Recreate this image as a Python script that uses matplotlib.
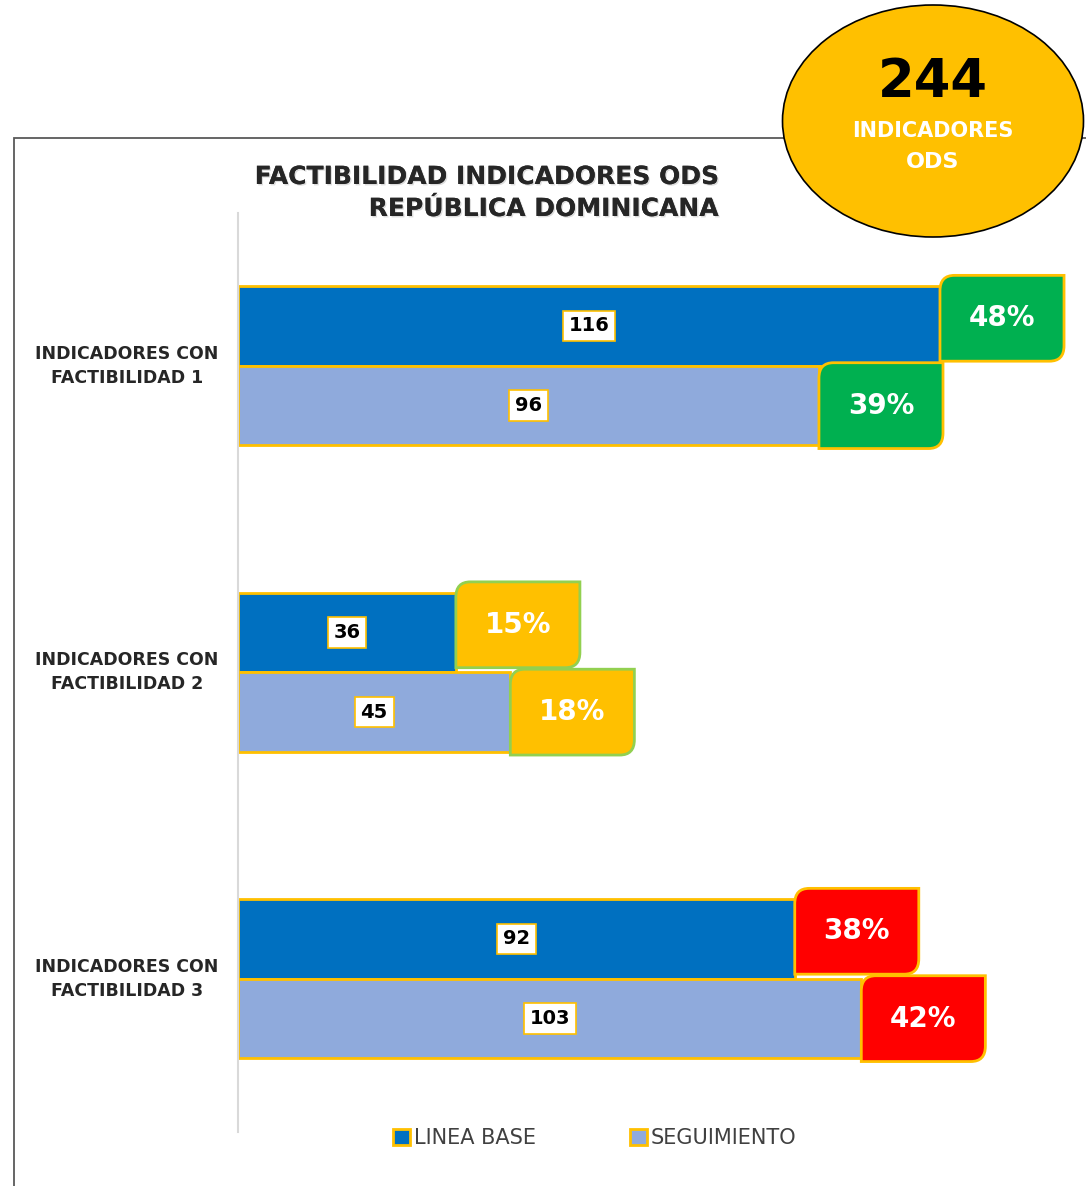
import numpy as np
import matplotlib.pyplot as plt
import matplotlib.patches as patches
import matplotlib.patheffects as pe
from matplotlib.path import Path
from matplotlib.transforms import blended_transform_factory

# datos
categorias = ['INDICADORES CON\nFACTIBILIDAD 1', 'INDICADORES CON\nFACTIBILIDAD 2', 'INDICADORES CON\nFACTIBILIDAD 3']
linea_base = [116, 36, 92]
seguimiento = [96, 45, 103]
pct_base = [48, 15, 38]
pct_seg = [39, 18, 42]
total = 244

c_base = '#0070C0'
c_seg = '#8FAADC'
gold = '#FFC000'
box_fc = ['#00B050', '#FFC000', '#FF0000']
box_ec = ['#FFC000', '#92D050', '#FFC000']

fig = plt.figure(figsize=(10.86, 11.86), dpi=100)
ax = fig.add_axes([238/1086, 0.0455, 823/1086, 0.7753])

y = np.arange(len(categorias))
h = 0.26
ax.barh(y - h/2, linea_base, height=h, color=c_base, edgecolor=gold, linewidth=2, label='LINEA BASE', zorder=2)
ax.barh(y + h/2, seguimiento, height=h, color=c_seg, edgecolor=gold, linewidth=2, label='SEGUIMIENTO', zorder=2)
ax.set_xlim(0, 136)
ax.set_ylim(2.5, -0.5)

for s in ['top', 'right', 'bottom']:
    ax.spines[s].set_visible(False)
ax.spines['left'].set_color('#d9d9d9')
ax.spines['left'].set_linewidth(1.5)
ax.set_xticks([])
ax.set_yticks([])


def caja(x0, ytop, w, hh, fc, ec, rx=2.4, ry=0.05):
    # esquinas redondeadas arriba-izquierda y abajo-derecha
    ybot = ytop + hh
    verts = [(x0, ytop + ry), (x0, ytop), (x0 + rx, ytop),
             (x0 + w, ytop), (x0 + w, ybot - ry),
             (x0 + w, ybot), (x0 + w - rx, ybot),
             (x0, ybot), (x0, ytop + ry)]
    codes = [Path.MOVETO, Path.CURVE3, Path.CURVE3,
             Path.LINETO, Path.LINETO,
             Path.CURVE3, Path.CURVE3,
             Path.LINETO, Path.CLOSEPOLY]
    p = patches.PathPatch(Path(verts, codes), facecolor=fc, edgecolor=ec, lw=2, zorder=4, clip_on=False)
    ax.add_patch(p)


bw = 20.5
bh = 0.28
for i in range(len(categorias)):
    # etiquetas de valor
    ax.text(linea_base[i]/2, i - h/2, str(linea_base[i]), ha='center', va='center',
            fontsize=14, fontweight='bold', color='black', zorder=5,
            bbox=dict(boxstyle='square,pad=0.3', fc='white', ec=gold, lw=1.2))
    ax.text(seguimiento[i]/2, i + h/2, str(seguimiento[i]), ha='center', va='center',
            fontsize=14, fontweight='bold', color='black', zorder=5,
            bbox=dict(boxstyle='square,pad=0.3', fc='white', ec=gold, lw=1.2))
    # cajas de porcentaje
    yt = i - h - 0.035
    caja(linea_base[i], yt, bw, bh, box_fc[i], box_ec[i])
    ax.text(linea_base[i] + bw/2, yt + bh/2, f'{pct_base[i]}%', ha='center', va='center',
            fontsize=20, fontweight='bold', color='white', zorder=6, clip_on=False)
    yt = i - 0.01
    caja(seguimiento[i], yt, bw, bh, box_fc[i], box_ec[i])
    ax.text(seguimiento[i] + bw/2, yt + bh/2, f'{pct_seg[i]}%', ha='center', va='center',
            fontsize=20, fontweight='bold', color='white', zorder=6, clip_on=False)

# etiquetas de categoria
tr = blended_transform_factory(fig.transFigure, ax.transData)
for i, c in enumerate(categorias):
    ax.text(127/1086, i, c, transform=tr, ha='center', va='center', fontsize=12.5,
            fontweight='bold', color='#262626', linespacing=1.45, clip_on=False)

# titulo
sombra = [pe.withSimplePatchShadow(offset=(1, -1), shadow_rgbFace='#aaaaaa', alpha=0.4), pe.Normal()]
fig.text(718/1086, 1 - 177/1186, 'FACTIBILIDAD INDICADORES ODS', ha='right', va='center',
         fontsize=18, fontweight='bold', color='#262626', path_effects=sombra)
fig.text(718/1086, 1 - 209/1186, 'REPÚBLICA DOMINICANA', ha='right', va='center',
         fontsize=18, fontweight='bold', color='#262626', path_effects=sombra)

# marco
fig.add_artist(patches.Rectangle((14/1086, -0.02), 1.0, 1 - 138/1186 + 0.02, transform=fig.transFigure,
                                 fill=False, edgecolor='#595959', lw=1.3))

# elipse
fig.add_artist(patches.Ellipse((933/1086, 1 - 121/1186), 301/1086, 232/1186, transform=fig.transFigure,
                               facecolor=gold, edgecolor='black', lw=1.2, zorder=10))
fig.text(933/1086, 1 - 82/1186, str(total), ha='center', va='center', fontsize=38,
         fontweight='bold', color='black', zorder=11)
fig.text(933/1086, 1 - 131/1186, 'INDICADORES', ha='center', va='center', fontsize=15,
         fontweight='semibold', color='white', zorder=11)
fig.text(933/1086, 1 - 162/1186, 'ODS', ha='center', va='center', fontsize=16,
         fontweight='semibold', color='white', zorder=11)

# leyenda
leg = fig.legend(loc='center', bbox_to_anchor=(595/1086, 1 - 1138/1186), ncol=2, frameon=False,
                 handlelength=0.8, handleheight=0.8, handletextpad=0.2, columnspacing=4.5,
                 prop={'size': 15})
for t in leg.get_texts():
    t.set_color('#404040')

fig.savefig('out.png', dpi=100)
